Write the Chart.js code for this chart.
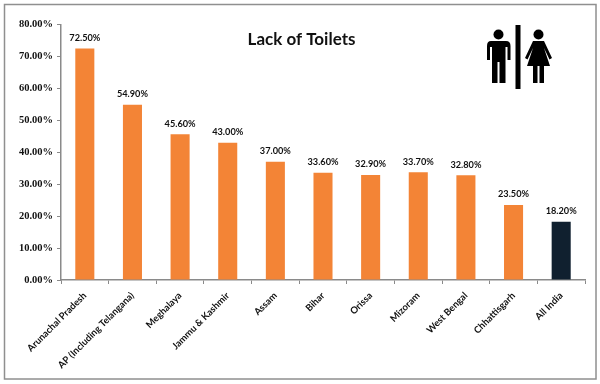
<!DOCTYPE html>
<html>
<head>
<meta charset="utf-8">
<style>
  html, body { margin: 0; padding: 0; background: #fff; }
  canvas { display: block; }
</style>
<script src="https://cdn.jsdelivr.net/npm/chart.js@4/dist/chart.umd.min.js"></script>
</head>
<body>
<canvas id="chart" width="600" height="384"></canvas>
<script>
const categories = ["Arunachal Pradesh", "AP (Including Telangana)", "Meghalaya", "Jammu & Kashmir", "Assam", "Bihar", "Orissa", "Mizoram", "West Bengal", "Chhattisgarh", "All India"];
const values = [72.5, 54.9, 45.6, 43.0, 37.0, 33.6, 32.9, 33.7, 32.8, 23.5, 18.2];
const barColors = ["#f38436", "#f38436", "#f38436", "#f38436", "#f38436", "#f38436", "#f38436", "#f38436", "#f38436", "#f38436", "#10202f"];
const titleText = "Lack of Toilets";

// grey frame round the whole picture
const framePlugin = {
  id: "frame",
  beforeDraw(chart) {
    const ctx = chart.ctx;
    ctx.save();
    ctx.strokeStyle = "#8f8f8f";
    ctx.lineWidth = 1.5;
    ctx.strokeRect(4.5, 4.5, 591.5, 374.5);
    ctx.restore();
  },
};

const valueLabelPlugin = {
  id: "valueLabels",
  afterDatasetsDraw(chart) {
    const ctx = chart.ctx;
    const bars = chart.getDatasetMeta(0).data;
    ctx.save();
    ctx.font = "bold 9.2px Lato";
    ctx.fillStyle = "#111";
    ctx.textAlign = "center";
    ctx.textBaseline = "middle";
    bars.forEach((bar, i) => {
      ctx.fillText(values[i].toFixed(2) + "%", bar.x, bar.y - 10.5);
    });
    ctx.restore();
  },
};

const titlePlugin = {
  id: "titleText",
  afterDraw(chart) {
    const ctx = chart.ctx;
    ctx.save();
    ctx.font = "bold 17px Lato";
    ctx.fillStyle = "#111";
    ctx.textAlign = "center";
    ctx.textBaseline = "middle";
    ctx.fillText(titleText, 301.5, 40);
    ctx.restore();
  },
};

// restroom sign top right
const iconPlugin = {
  id: "toiletIcon",
  afterDraw(chart) {
    const ctx = chart.ctx;
    ctx.save();
    ctx.fillStyle = "#000";
    ctx.fillRect(515.5, 25, 5, 64);

    // man
    ctx.beginPath();
    ctx.arc(498.5, 34.5, 5, 0, Math.PI * 2);
    ctx.fill();
    ctx.beginPath();
    ctx.moveTo(491, 41);
    ctx.lineTo(506, 41);
    ctx.quadraticCurveTo(510.5, 41, 510.5, 46);
    ctx.lineTo(510.5, 60);
    ctx.lineTo(507.5, 60);
    ctx.lineTo(507.5, 47);
    ctx.lineTo(505.5, 47);
    ctx.lineTo(505.5, 83);
    ctx.lineTo(499.5, 83);
    ctx.lineTo(499.5, 62);
    ctx.lineTo(497.5, 62);
    ctx.lineTo(497.5, 83);
    ctx.lineTo(492, 83);
    ctx.lineTo(492, 47);
    ctx.lineTo(490, 47);
    ctx.lineTo(490, 60);
    ctx.lineTo(487, 60);
    ctx.lineTo(487, 46);
    ctx.quadraticCurveTo(487, 41, 491, 41);
    ctx.closePath();
    ctx.fill();

    // woman
    ctx.beginPath();
    ctx.arc(538.5, 34.5, 5, 0, Math.PI * 2);
    ctx.fill();
    ctx.beginPath();
    ctx.moveTo(533, 41);
    ctx.lineTo(544, 41);
    ctx.lineTo(552, 58);
    ctx.lineTo(549.5, 59.5);
    ctx.lineTo(544, 48);
    ctx.lineTo(550, 66);
    ctx.lineTo(544, 66);
    ctx.lineTo(544, 83);
    ctx.lineTo(539.5, 83);
    ctx.lineTo(539.5, 66);
    ctx.lineTo(537.5, 66);
    ctx.lineTo(537.5, 83);
    ctx.lineTo(533, 83);
    ctx.lineTo(533, 66);
    ctx.lineTo(527, 66);
    ctx.lineTo(533, 48);
    ctx.lineTo(527.5, 59.5);
    ctx.lineTo(525, 58);
    ctx.closePath();
    ctx.fill();
    ctx.restore();
  },
};

new Chart(document.getElementById("chart"), {
  type: "bar",
  data: {
    labels: categories,
    datasets: [
      {
        data: values,
        backgroundColor: barColors,
        barPercentage: 0.4,
        categoryPercentage: 1,
      },
    ],
  },
  options: {
    responsive: false,
    animation: false,
    layout: { padding: { top: 24.5, right: 15, bottom: 0, left: 0 } },
    plugins: {
      legend: { display: false },
      tooltip: { enabled: false },
    },
    scales: {
      x: {
        afterFit(scale) {
          scale.height = 104;
        },
        border: { color: "#8a8a8a", width: 1.5 },
        grid: { drawOnChartArea: false, color: "#8a8a8a", tickLength: 4 },
        ticks: {
          autoSkip: false,
          maxRotation: 45,
          minRotation: 45,
          padding: 6,
          color: "#111",
          font: { family: "Lato", weight: "bold", size: 9.5 },
        },
      },
      y: {
        min: 0,
        max: 80,
        afterFit(scale) {
          scale.width = 61;
        },
        border: { color: "#8a8a8a", width: 1.5 },
        grid: { drawOnChartArea: false, color: "#8a8a8a", tickLength: 4 },
        ticks: {
          stepSize: 10,
          padding: 4,
          color: "#111",
          font: { family: "Liberation Serif", weight: "bold", size: 10.5 },
          callback: (value) => value.toFixed(2) + "%",
        },
      },
    },
  },
  plugins: [framePlugin, valueLabelPlugin, titlePlugin, iconPlugin],
});
</script>
</body>
</html>
